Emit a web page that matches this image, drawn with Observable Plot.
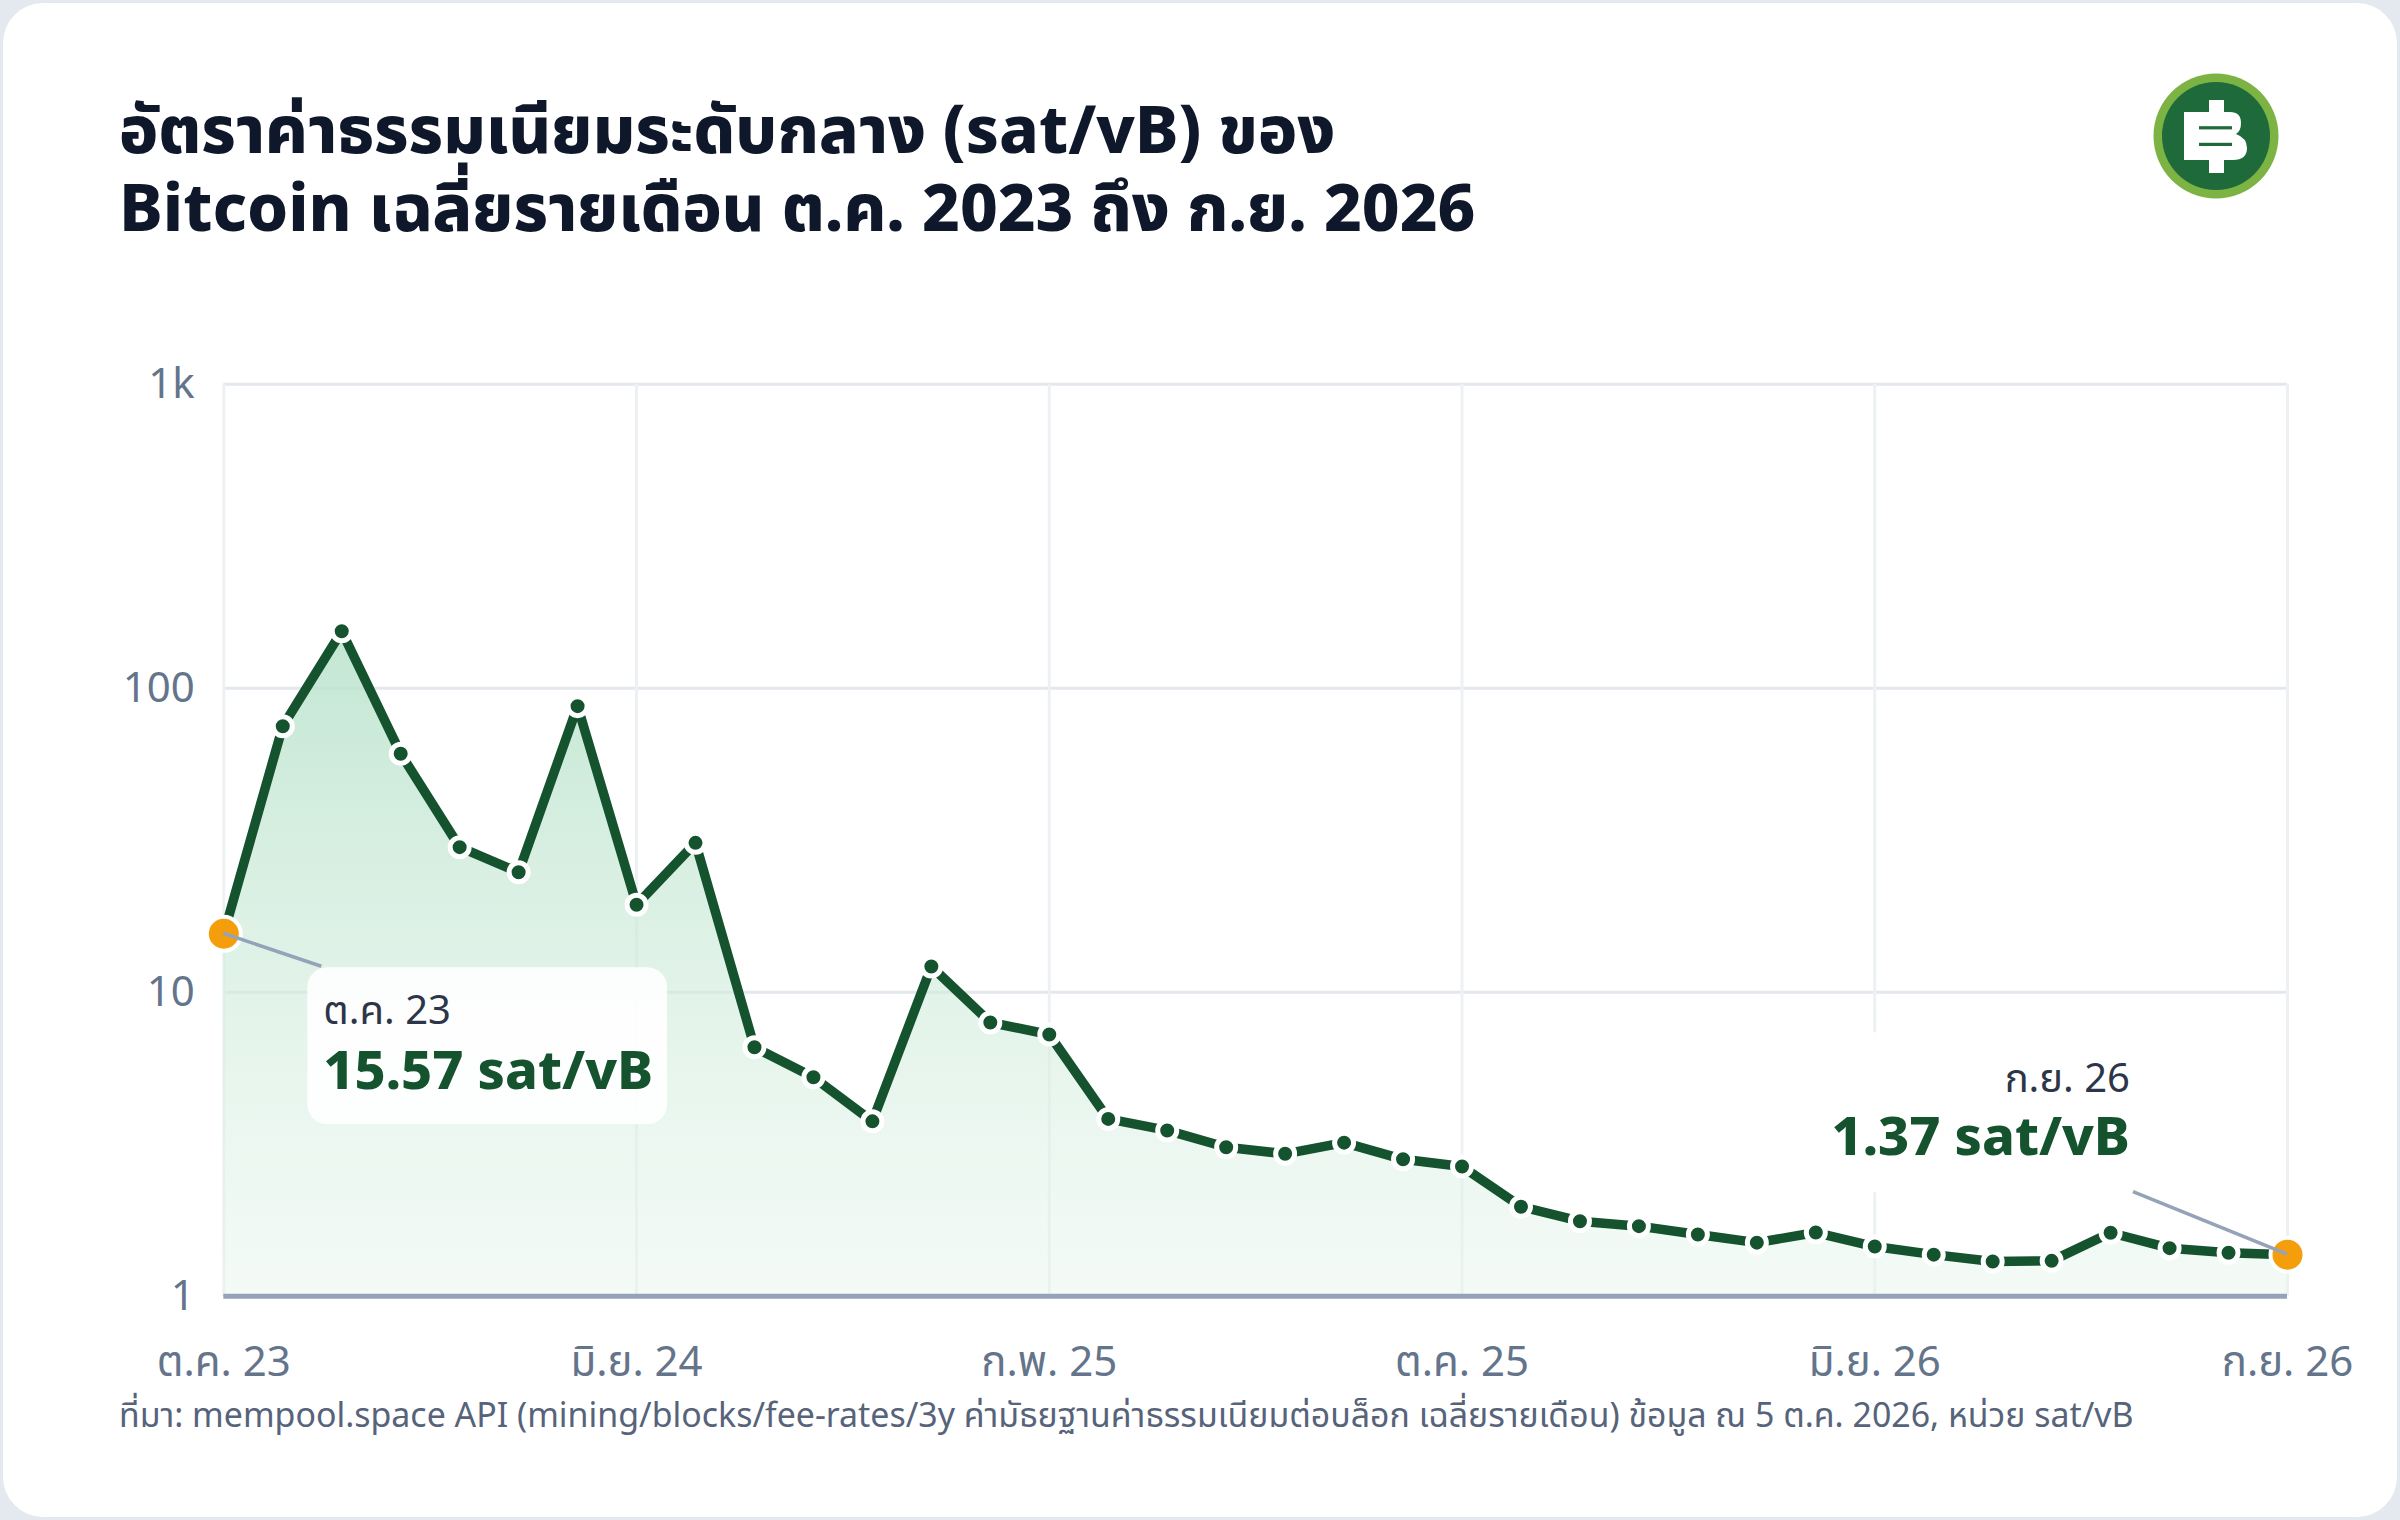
<!DOCTYPE html>
<html>
<head>
<meta charset="utf-8">
<script src="https://cdn.jsdelivr.net/npm/d3@7"></script>
<script src="https://cdn.jsdelivr.net/npm/@observablehq/plot@0.6"></script>
<style>
html,body{margin:0;padding:0;background:#e4e8ef;}
body{width:2400px;height:1520px;position:relative;overflow:hidden;font-family:"Noto Sans","Noto Sans Thai",sans-serif;}
#card{position:absolute;left:3px;top:3px;width:2394px;height:1514px;background:#fff;border-radius:40px;}
.tline{position:absolute;left:119px;font-size:65.5px;font-weight:800;line-height:78px;height:78px;color:#0f172a;white-space:nowrap;}
#t1{top:89px;}
#t2{top:167px;}
#chart{position:absolute;left:0;top:300px;width:2400px;}
#footer{position:absolute;left:119px;top:1394px;font-size:33.9px;line-height:40px;color:#56637a;white-space:nowrap;}
#logo{position:absolute;left:2146px;top:66px;}
</style>
</head>
<body>
<div id="card"></div>
<div class="tline" id="t1">อัตราค่าธรรมเนียมระดับกลาง (sat/vB) ของ</div>
<div class="tline" id="t2">Bitcoin เฉลี่ยรายเดือน ต.ค. 2023 ถึง ก.ย. 2026</div>
<svg id="logo" width="140" height="140" viewBox="-70 -70 140 140">
  <circle r="62.5" fill="#7cb342"/>
  <circle r="54" fill="#1f6a3a"/>
  <rect x="-7" y="-36" width="15" height="73" fill="#fff"/>
  <path d="M-32,-24 H14 Q25,-24 25,-13 Q25,-5 20,-2 Q31,2 31,12 Q31,24 17,24 H-32 Z" fill="#fff"/>
  <rect x="-17" y="-9.8" width="33" height="3.2" fill="#1f6a3a"/>
  <rect x="-17" y="6.8" width="33" height="3.2" fill="#1f6a3a"/>
</svg>
<div id="chart"></div>
<div id="footer">ที่มา: mempool.space API (mining/blocks/fee-rates/3y ค่ามัธยฐานค่าธรรมเนียมต่อบล็อก เฉลี่ยรายเดือน) ข้อมูล ณ 5 ต.ค. 2026, หน่วย sat/vB</div>
<script>
// ---- data ----
const months = [
  "ต.ค. 23","พ.ย. 23","ธ.ค. 23","ม.ค. 24","ก.พ. 24","มี.ค. 24","เม.ย. 24","พ.ค. 24","มิ.ย. 24","ก.ค. 24","ส.ค. 24","ก.ย. 24",
  "ต.ค. 24","พ.ย. 24","ธ.ค. 24","ม.ค. 25","ก.พ. 25","มี.ค. 25","เม.ย. 25","พ.ค. 25","มิ.ย. 25","ก.ค. 25","ส.ค. 25","ก.ย. 25",
  "ต.ค. 25","พ.ย. 25","ธ.ค. 25","ม.ค. 26","ก.พ. 26","มี.ค. 26","เม.ย. 26","พ.ค. 26","มิ.ย. 26","ก.ค. 26","ส.ค. 26","ก.ย. 26"
];
const feeRates = [
  15.57, 75.0, 154, 60.9, 30.0, 24.8, 87.3, 19.4, 31.0, 6.59, 5.25, 3.76,
  12.15, 7.95, 7.26, 3.83, 3.51, 3.09, 2.94, 3.20, 2.82, 2.67, 1.97, 1.765,
  1.70, 1.596, 1.50, 1.62, 1.457, 1.37, 1.30, 1.307, 1.617, 1.439, 1.389, 1.37
];
const xTickIndex = [0, 7, 14, 21, 28, 35];
const xTickLabels = ["ต.ค. 23","มิ.ย. 24","ก.พ. 25","ต.ค. 25","มิ.ย. 26","ก.ย. 26"];
const yTicks = [1, 10, 100, 1000];
const yTickLabels = ["1","10","100","1k"];
const unit = "sat/vB";

const data = feeRates.map((v, i) => ({i, month: months[i], v}));
const ends = [data[0], data[data.length - 1]];

const FONT = '"Noto Sans","Noto Sans Thai",sans-serif';
const GREEN = "#15532f";

const plot = Plot.plot({
  width: 2400,
  height: 1100,
  marginLeft: 223.3,
  marginRight: 113,
  marginTop: 83.7,
  marginBottom: 104.3,
  style: {fontFamily: FONT, fontSize: "42px", color: "#64748b", background: "transparent", overflow: "visible"},
  x: {type: "linear", domain: [0, months.length - 1], ticks: xTickIndex,
      tickFormat: d => xTickLabels[xTickIndex.indexOf(d)], tickSize: 0, tickPadding: 50, label: null},
  y: {type: "log", domain: [1, 1000], ticks: yTicks,
      tickFormat: d => yTickLabels[yTicks.indexOf(d)], tickSize: 0, tickPadding: 29, label: null},
  marks: [
    Plot.gridY(yTicks.slice(1), {stroke: "#e3e7ee", strokeOpacity: 1, strokeWidth: 3}),
    Plot.gridX(xTickIndex, {stroke: "#eef1f4", strokeOpacity: 1, strokeWidth: 3}),
    Plot.areaY(data, {x: "i", y1: 1, y2: "v", fill: "url(#feeGrad)"}),
    Plot.ruleY([1], {stroke: "#94a3b8", strokeWidth: 5}),
    Plot.lineY(data, {x: "i", y: "v", stroke: GREEN, strokeWidth: 9.5, strokeLinejoin: "round"}),
    Plot.dot(data.slice(1, -1), {x: "i", y: "v", r: 9.5, fill: GREEN, stroke: "#fff", strokeWidth: 5}),
    Plot.dot(ends, {x: "i", y: "v", r: 17, fill: "#f59e0b", stroke: "#fff", strokeWidth: 4})
  ]
});
document.getElementById("chart").appendChild(plot);

const svg = d3.select(plot);
const defs = svg.insert("defs", ":first-child");
const grad = defs.append("linearGradient").attr("id", "feeGrad").attr("x1", 0).attr("y1", 0).attr("x2", 0).attr("y2", 1);
grad.append("stop").attr("offset", "0%").attr("stop-color", "#b8e2ca").attr("stop-opacity", 0.85);
grad.append("stop").attr("offset", "100%").attr("stop-color", "#e6f5ec").attr("stop-opacity", 0.45);

const sx = plot.scale("x"), sy = plot.scale("y");
const fmt = v => `${v.toFixed(2)} ${unit}`;
const layer = svg.append("g");

function callout(d, side) {
  const px = sx.apply(d.i), py = sy.apply(d.v);
  const g = layer.append("g");
  const box = g.append("rect").attr("rx", 20).attr("fill", "#fff").attr("fill-opacity", 0.9);
  const lead = g.append("line").attr("stroke", "#94a3b8").attr("stroke-width", 3.5).attr("x1", px).attr("y1", py);
  const anchor = side === "right" ? "start" : "end";
  const tx = side === "right" ? px + 100 : px - 157;
  const by1 = side === "right" ? py + 91 : py - 162.6;
  const by2 = side === "right" ? py + 156 : py - 99.3;
  const t1 = g.append("text").attr("x", tx).attr("y", by1).attr("text-anchor", anchor)
    .attr("font-family", FONT).attr("font-size", 40).attr("fill", "#2d3648").text(d.month);
  const t2 = g.append("text").attr("x", tx).attr("y", by2).attr("text-anchor", anchor)
    .attr("font-family", FONT).attr("font-size", 54).attr("font-weight", 800).attr("fill", GREEN).text(fmt(d.v));
  const w = Math.max(t1.node().getComputedTextLength(), t2.node().getComputedTextLength()) + 30;
  if (side === "right") {
    box.attr("x", px + 84).attr("y", py + 34).attr("width", w).attr("height", 157);
    lead.attr("x2", px + 98).attr("y2", py + 33);
  } else {
    box.attr("x", px - 141 - w).attr("y", py - 222).attr("width", w).attr("height", 160);
    lead.attr("x2", px - 154).attr("y2", py - 62.6);
  }
}
callout(ends[0], "right");
callout(ends[1], "left");
</script>
</body>
</html>
